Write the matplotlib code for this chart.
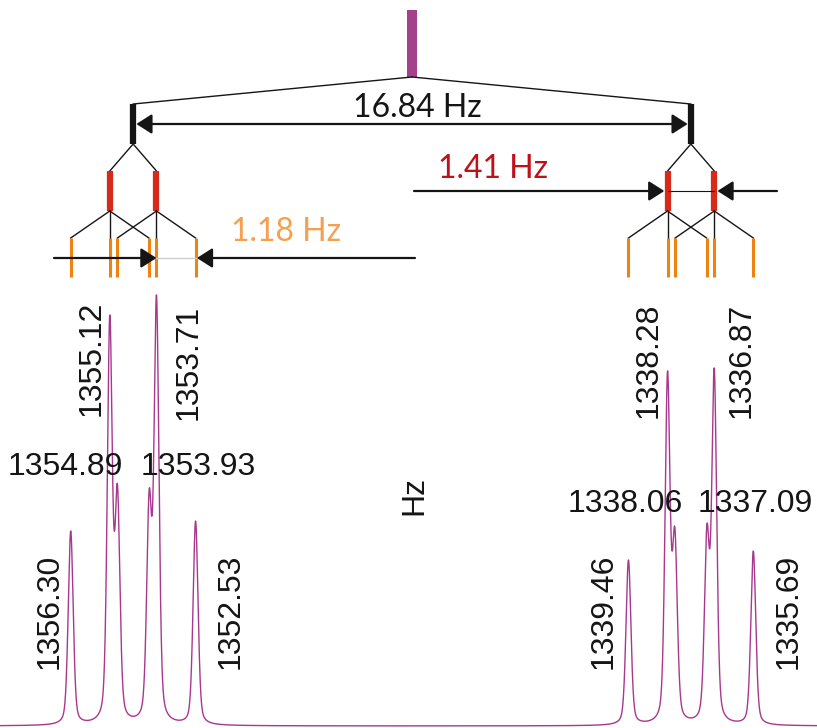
import numpy as np
import matplotlib
matplotlib.use('Agg')
from matplotlib import pyplot as plt

left_lines = [1356.30, 1355.12, 1354.89, 1353.93, 1353.71, 1352.53]
left_heights = [195, 411, 242, 237, 431, 205]
right_lines = [1339.46, 1338.28, 1338.06, 1337.09, 1336.87, 1335.69]
right_heights = [166, 355, 199, 202, 358, 175]

# coupling constants (Hz)
j_big = 16.84
j_mid = 1.41
j_small = 1.18

fwhm = 0.177  # line width, Hz
eta = 0.35    # lorentzian fraction of the pseudo-voigt shape

# label placement in pixels: (vertical?, x, y) - x is the baseline for vertical text
left_label_pos = [(True, 58, 611), (True, 100, 358), (False, 65, 475),
                  (False, 198, 475), (True, 197, 362), (True, 239, 611)]
right_label_pos = [(True, 612, 611), (True, 657, 360), (False, 625, 512),
                   (False, 755, 512), (True, 750, 360), (True, 797, 611)]

W, H = 817, 728
x_left, x_right = 1358.435, 1333.767
hz_px = (x_left - x_right) / W

MAGENTA = '#a3418c'
TRACE = '#a8388e'
RED = '#d62a1a'
ORANGE = '#f0820f'
DARK = '#151515'


def px(x, y):
    # pixel position -> data coords
    return x_left - x * hz_px, 726 - y


def shape(d):
    g = fwhm / 2
    sig = fwhm / 2.3548
    return eta / (1 + (d / g) ** 2) + (1 - eta) * np.exp(-d ** 2 / (2 * sig ** 2))


fig = plt.figure(figsize=(W / 100, H / 100), dpi=100)
ax = fig.add_axes([0, 0, 1, 1])
ax.set_xlim(x_left, x_right)
ax.set_ylim(-2, 726)
ax.axis('off')

# spectrum: amplitudes solved so the maxima match the read heights
lines = np.array(left_lines + right_lines)
heights = np.array(left_heights + right_heights, dtype=float)
M = shape(lines[:, None] - lines[None, :])
amps = np.linalg.solve(M, heights)
f = np.linspace(x_left, x_right, 8000)
spec = (amps[None, :] * shape(f[:, None] - lines[None, :])).sum(axis=1)
ax.plot(f, spec, color=TRACE, lw=1.0)

# splitting tree
c1 = (left_lines[0] + left_lines[-1]) / 2
c2 = (right_lines[0] + right_lines[-1]) / 2
c0 = (c1 + c2) / 2

ax.plot([c0, c0], [716, 649], color=MAGENTA, lw=7.2, solid_capstyle='butt')
for c in (c1, c2):
    ax.plot([c0, c], [649, 622], color=DARK, lw=1.0)
    ax.plot([c, c], [622, 582], color=DARK, lw=4.5, solid_capstyle='butt')
    for r in (c + j_mid / 2, c - j_mid / 2):
        ax.plot([c, r], [582, 555], color=DARK, lw=1.0)
        ax.plot([r, r], [555, 515], color=RED, lw=4.5, solid_capstyle='butt')
        for o in (r + j_small, r, r - j_small):
            ax.plot([r, o], [515, 488], color=DARK, lw=1.0)
            ax.plot([o, o], [488, 449], color=ORANGE, lw=2.2, solid_capstyle='butt')

head = '-|>,head_length=0.47,head_width=0.3'
arr = dict(color=DARK, lw=1.6, mutation_scale=20, shrinkA=0, shrinkB=0)

# 16.84 Hz
bar_half = 3.2 * hz_px
ax.annotate('', xy=(c2 + bar_half, 602), xytext=(c1 - bar_half, 602),
            arrowprops=dict(arrowstyle='<|-|>,head_length=0.47,head_width=0.3', **arr))
ax.text(*px(417, 117), f'{j_big:.2f} Hz', fontsize=23, family='Lato',
        color=DARK, ha='center', va='baseline')

# 1.41 Hz
r1, r2 = c2 + j_mid / 2, c2 - j_mid / 2
ax.plot([r1, r2], [535, 535], color=DARK, lw=0.8)
ax.annotate('', xy=(r1 + bar_half, 535), xytext=(px(414, 0)[0], 535),
            arrowprops=dict(arrowstyle=head, **arr))
ax.annotate('', xy=(r2 - bar_half, 535), xytext=(px(777, 0)[0], 535),
            arrowprops=dict(arrowstyle=head, **arr))
ax.text(*px(493, 178), f'{j_mid:.2f} Hz', fontsize=23, family='Lato',
        color='#c0101a', ha='center', va='baseline')

# 1.18 Hz
o1 = c1 - j_mid / 2
o2 = o1 - j_small
ax.plot([o1, o2], [468, 468], color='#cccccc', lw=1.0)
ax.annotate('', xy=(o1, 468), xytext=(px(54, 0)[0], 468),
            arrowprops=dict(arrowstyle=head, **arr))
ax.annotate('', xy=(o2 - 0.04, 468), xytext=(px(415, 0)[0], 468),
            arrowprops=dict(arrowstyle=head, **arr))
ax.text(*px(286, 241), f'{j_small:.2f} Hz', fontsize=23, family='Lato',
        color='#f5a050', ha='center', va='baseline')

# peak labels
for vals, pos in ((left_lines, left_label_pos), (right_lines, right_label_pos)):
    for v, (vert, x, y) in zip(vals, pos):
        if vert:
            ax.text(*px(x, y), f'{v:.2f}', fontsize=23, family='Liberation Sans',
                    color=DARK, rotation=90, rotation_mode='anchor',
                    ha='center', va='baseline')
        else:
            ax.text(*px(x, y), f'{v:.2f}', fontsize=23, family='Liberation Sans',
                    color=DARK, ha='center', va='baseline')

ax.text(*px(422, 495), 'Hz', fontsize=23, family='Liberation Sans', color=DARK,
        rotation=90, rotation_mode='anchor', ha='center', va='baseline')

fig.savefig('out.png', dpi=100)
plt.close(fig)
